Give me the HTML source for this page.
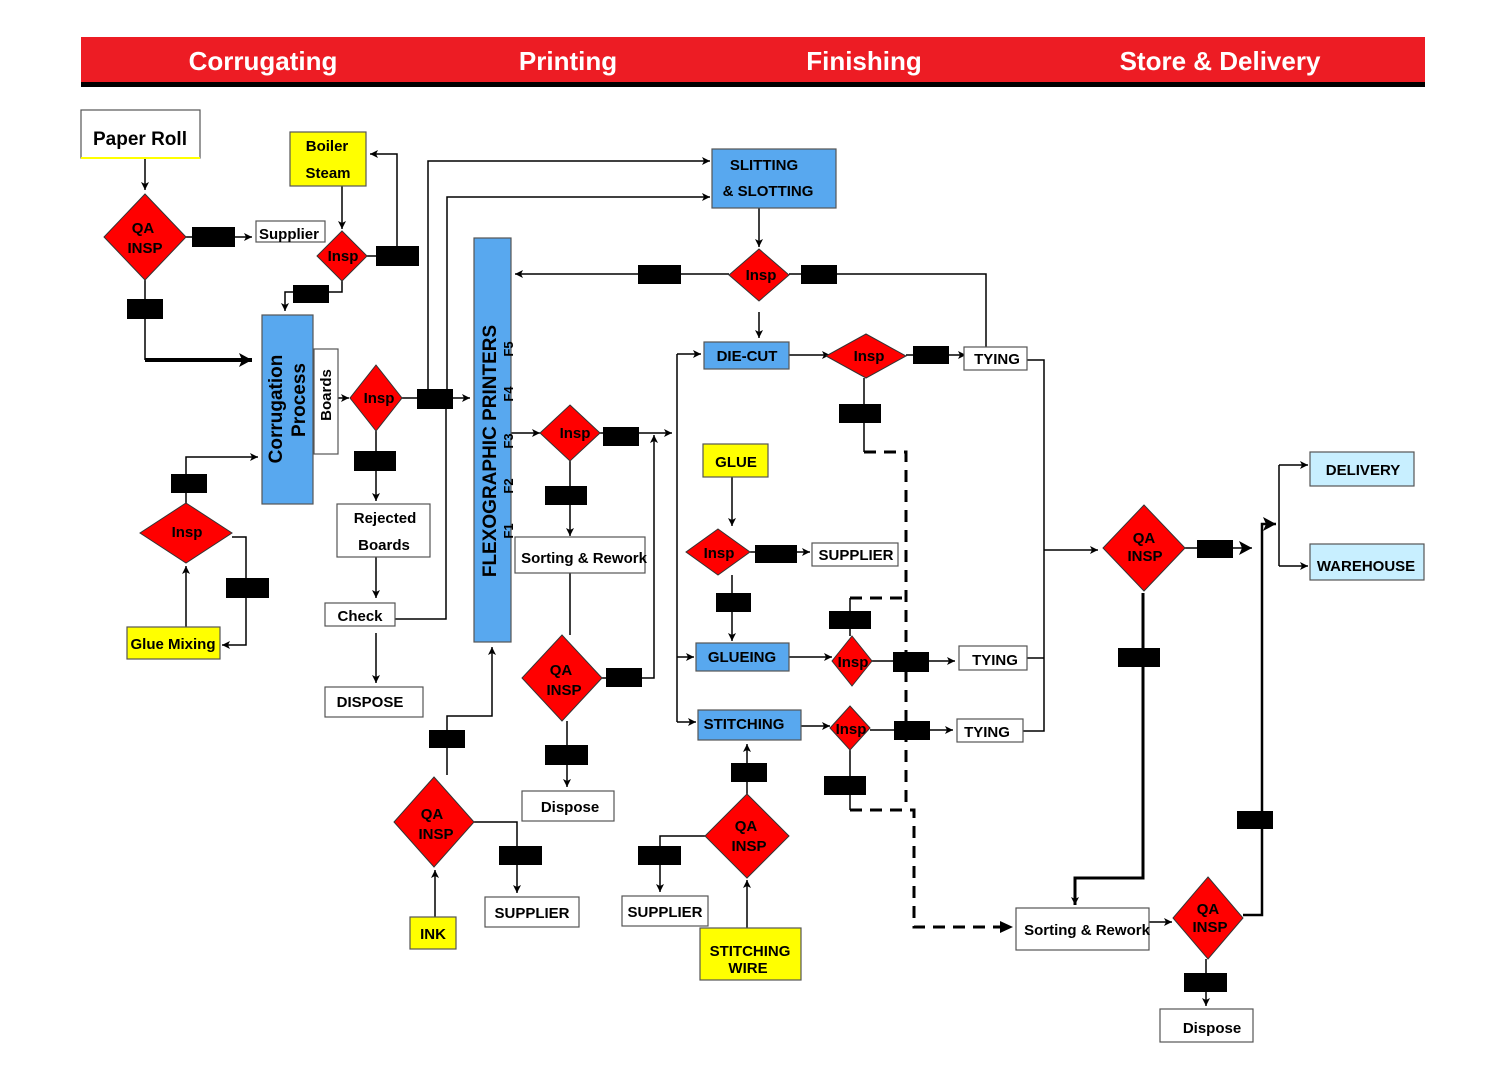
<!DOCTYPE html>
<html><head><meta charset="utf-8"><style>
html,body{margin:0;padding:0;background:#fff;width:1490px;height:1080px;overflow:hidden}
svg text{font-family:"Liberation Sans",Arial,sans-serif;font-weight:bold;fill:#000}
</style></head><body>
<svg width="1490" height="1080" viewBox="0 0 1490 1080" xmlns="http://www.w3.org/2000/svg">
<defs>
<marker id="a" markerWidth="10" markerHeight="10" refX="9" refY="5" orient="auto" markerUnits="userSpaceOnUse"><path d="M1,1 L9,5 L1,9 L3,5 Z" fill="#000"/></marker>
<marker id="b" markerWidth="16" markerHeight="16" refX="14" refY="8" orient="auto" markerUnits="userSpaceOnUse"><path d="M1,1 L14,8 L1,15 L4,8 Z" fill="#000"/></marker>
</defs>
<rect x="81" y="37" width="1344" height="46" fill="#ed1c24"/>
<rect x="81" y="82" width="1344" height="5" fill="#000"/>
<g font-size="26" text-anchor="middle">
<text x="263" y="70" style="fill:#fff">Corrugating</text>
<text x="568" y="70" style="fill:#fff">Printing</text>
<text x="864" y="70" style="fill:#fff">Finishing</text>
<text x="1220" y="70" style="fill:#fff">Store &amp; Delivery</text>
</g>

<g stroke="#000" stroke-width="1.5" fill="none">
<path d="M145,158 V190" marker-end="url(#a)"/>
<path d="M186,237 H252" marker-end="url(#a)"/>
<path d="M342,186 V229" marker-end="url(#a)"/>
<path d="M367,256 H397 V154 H370" marker-end="url(#a)"/>
<path d="M342,281 V292 H285 V311" marker-end="url(#a)"/>
<path d="M145,280 V360" />
<path d="M145,360 H252" stroke-width="4" marker-end="url(#b)"/>
<path d="M338,398 H349" marker-end="url(#a)"/>
<path d="M402,398 H470" marker-end="url(#a)"/>
<path d="M428,398 V161 H710" marker-end="url(#a)"/>
<path d="M447,398 V197 H710" marker-end="url(#a)"/>
<path d="M376,431 V501" marker-end="url(#a)"/>
<path d="M376,557 V598" marker-end="url(#a)"/>
<path d="M395,619 H446 V398"/>
<path d="M376,633 V683" marker-end="url(#a)"/>
<path d="M186,503 V457 H258" marker-end="url(#a)"/>
<path d="M232,537 H246 V645 H222" marker-end="url(#a)"/>
<path d="M186,627 V566" marker-end="url(#a)"/>
<path d="M511,433 H540" marker-end="url(#a)"/>
<path d="M600,433 H672" marker-end="url(#a)"/>
<path d="M570,461 V536" marker-end="url(#a)"/>
<path d="M570,573 V635"/>
<path d="M602,678 H654 V435" marker-end="url(#a)"/>
<path d="M567,721 V787" marker-end="url(#a)"/>
<path d="M447,775 V716 H492 V647" marker-end="url(#a)"/>
<path d="M474,822 H517 V893" marker-end="url(#a)"/>
<path d="M435,917 V870" marker-end="url(#a)"/>
<path d="M759,208 V247" marker-end="url(#a)"/>
<path d="M729,274 H515" marker-end="url(#a)"/>
<path d="M789,274 H986 V347"/>
<path d="M759,312 V338" marker-end="url(#a)"/>
<path d="M677,354 V722"/>
<path d="M677,354 H701" marker-end="url(#a)"/>
<path d="M677,657 H694" marker-end="url(#a)"/>
<path d="M677,722 H696" marker-end="url(#a)"/>
<path d="M789,355 H830" marker-end="url(#a)"/>
<path d="M906,355 H966" marker-end="url(#a)"/>
<path d="M864,378 V452"/>
<path d="M732,477 V526" marker-end="url(#a)"/>
<path d="M750,552 H810" marker-end="url(#a)"/>
<path d="M732,575 V641" marker-end="url(#a)"/>
<path d="M789,657 H832" marker-end="url(#a)"/>
<path d="M872,661 H955" marker-end="url(#a)"/>
<path d="M850,636 V598"/>
<path d="M801,726 H830" marker-end="url(#a)"/>
<path d="M870,730 H953" marker-end="url(#a)"/>
<path d="M850,750 V810"/>
<path d="M747,794 V744" marker-end="url(#a)"/>
<path d="M705,836 H660 V892" marker-end="url(#a)"/>
<path d="M747,928 V880" marker-end="url(#a)"/>
<path d="M1027,360 H1044 V731 H1023"/>
<path d="M1027,658 H1044"/>
<path d="M1044,550 H1098" marker-end="url(#a)"/>
<path d="M1185,548 H1252" marker-end="url(#b)"/>
<path d="M1279,465 V566"/>
<path d="M1279,465 H1308" marker-end="url(#a)"/>
<path d="M1279,566 H1308" marker-end="url(#a)"/>
<path d="M1143,593 V878 H1075 V905" stroke-width="3" marker-end="url(#a)"/>
<path d="M1149,922 H1172" marker-end="url(#a)"/>
<path d="M1243,915 H1262 V524 H1276" stroke-width="2.5" marker-end="url(#b)"/>
<path d="M1206,959 V1006" marker-end="url(#a)"/>
</g>
<g stroke="#000" stroke-width="3" fill="none" stroke-dasharray="12,8">
<path d="M864,452 H906 V810"/>
<path d="M850,598 H906"/>
<path d="M850,810 H914 V927 H1000"/>
</g>
<path d="M1000,921 L1013,927 L1000,933 Z" fill="#000"/>

<g stroke="#555" stroke-width="1.2">
<rect x="81" y="110" width="119" height="48" fill="#fff"/>
<rect x="256" y="221" width="69" height="21" fill="#fff"/>
<rect x="290" y="132" width="76" height="54" fill="#ffff00"/>
<rect x="262" y="315" width="51" height="189" fill="#58a8ef"/>
<rect x="314" y="349" width="24" height="105" fill="#fff"/>
<rect x="337" y="504" width="93" height="53" fill="#fff"/>
<rect x="325" y="603" width="70" height="23" fill="#fff"/>
<rect x="325" y="687" width="98" height="30" fill="#fff"/>
<rect x="127" y="627" width="93" height="32" fill="#ffff00"/>
<rect x="474" y="238" width="37" height="404" fill="#58a8ef"/>
<rect x="515" y="537" width="130" height="36" fill="#fff"/>
<rect x="522" y="791" width="92" height="30" fill="#fff"/>
<rect x="485" y="897" width="94" height="30" fill="#fff"/>
<rect x="410" y="917" width="46" height="32" fill="#ffff00"/>
<rect x="712" y="149" width="124" height="59" fill="#58a8ef"/>
<rect x="704" y="342" width="85" height="27" fill="#58a8ef"/>
<rect x="964" y="347" width="63" height="23" fill="#fff"/>
<rect x="703" y="444" width="65" height="33" fill="#ffff00"/>
<rect x="812" y="543" width="86" height="23" fill="#fff"/>
<rect x="696" y="643" width="93" height="28" fill="#58a8ef"/>
<rect x="959" y="646" width="68" height="24" fill="#fff"/>
<rect x="698" y="710" width="103" height="30" fill="#58a8ef"/>
<rect x="957" y="719" width="66" height="23" fill="#fff"/>
<rect x="622" y="896" width="86" height="30" fill="#fff"/>
<rect x="700" y="928" width="101" height="52" fill="#ffff00"/>
<rect x="1310" y="452" width="104" height="34" fill="#c8efff"/>
<rect x="1310" y="544" width="114" height="36" fill="#c8efff"/>
<rect x="1016" y="908" width="133" height="42" fill="#fff"/>
<rect x="1160" y="1009" width="93" height="33" fill="#fff"/>
</g>
<rect x="81" y="157" width="119" height="2" fill="#ffff00"/>

<g fill="#ff0000" stroke="#333" stroke-width="1">
<polygon points="145,194 186,237 145,280 104,237"/>
<polygon points="342,231 367,256 342,281 317,256"/>
<polygon points="376,365 402,398 376,431 350,398"/>
<polygon points="186,503 232,533 186,563 140,533"/>
<polygon points="570,405 600,433 570,461 540,433"/>
<polygon points="562,635 602,678 562,721 522,678"/>
<polygon points="434,777 474,822 434,867 394,822"/>
<polygon points="759,249 789,275 759,301 729,275"/>
<polygon points="866,334 906,356 866,378 826,356"/>
<polygon points="718,529 750,552 718,575 686,552"/>
<polygon points="852,636 872,661 852,686 832,661"/>
<polygon points="850,706 870,728 850,750 830,728"/>
<polygon points="747,794 789,836 747,878 705,836"/>
<polygon points="1144,505 1185,548 1144,591 1103,548"/>
<polygon points="1208,877 1243,918 1208,959 1173,918"/>
</g>

<g fill="#000">
<rect x="192" y="227" width="43" height="20"/>
<rect x="376" y="246" width="43" height="20"/>
<rect x="293" y="285" width="36" height="18"/>
<rect x="127" y="299" width="36" height="20"/>
<rect x="417" y="389" width="36" height="20"/>
<rect x="354" y="451" width="42" height="20"/>
<rect x="171" y="474" width="36" height="19"/>
<rect x="226" y="578" width="43" height="20"/>
<rect x="603" y="427" width="36" height="19"/>
<rect x="545" y="486" width="42" height="19"/>
<rect x="606" y="668" width="36" height="19"/>
<rect x="545" y="745" width="43" height="20"/>
<rect x="429" y="730" width="36" height="18"/>
<rect x="499" y="846" width="43" height="19"/>
<rect x="638" y="265" width="43" height="19"/>
<rect x="801" y="265" width="36" height="19"/>
<rect x="913" y="346" width="36" height="18"/>
<rect x="839" y="404" width="42" height="19"/>
<rect x="755" y="545" width="42" height="18"/>
<rect x="716" y="593" width="35" height="19"/>
<rect x="829" y="611" width="42" height="18"/>
<rect x="893" y="652" width="36" height="20"/>
<rect x="894" y="721" width="36" height="19"/>
<rect x="824" y="776" width="42" height="19"/>
<rect x="731" y="763" width="36" height="19"/>
<rect x="638" y="846" width="43" height="19"/>
<rect x="1197" y="540" width="36" height="18"/>
<rect x="1118" y="648" width="42" height="19"/>
<rect x="1237" y="811" width="36" height="18"/>
<rect x="1184" y="973" width="43" height="19"/>
</g>

<g font-size="15" text-anchor="middle">
<text x="140" y="145" font-size="19">Paper Roll</text>
<text x="143" y="233">QA</text><text x="145" y="253">INSP</text>
<text x="289" y="239">Supplier</text>
<text x="327" y="151">Boiler</text><text x="328" y="178">Steam</text>
<text x="343" y="261">Insp</text>
<text x="379" y="403">Insp</text>
<text x="187" y="537">Insp</text>
<text x="173" y="649">Glue Mixing</text>
<text x="385" y="523">Rejected</text><text x="384" y="550">Boards</text>
<text x="360" y="621">Check</text>
<text x="370" y="707">DISPOSE</text>
<text x="575" y="438">Insp</text>
<text x="584" y="563">Sorting &amp; Rework</text>
<text x="561" y="675">QA</text><text x="564" y="695">INSP</text>
<text x="570" y="812">Dispose</text>
<text x="432" y="819">QA</text><text x="436" y="839">INSP</text>
<text x="532" y="918">SUPPLIER</text>
<text x="433" y="939">INK</text>
<text x="764" y="170">SLITTING</text><text x="768" y="196">&amp; SLOTTING</text>
<text x="761" y="280">Insp</text>
<text x="747" y="361">DIE-CUT</text>
<text x="869" y="361">Insp</text>
<text x="997" y="364">TYING</text>
<text x="736" y="467">GLUE</text>
<text x="719" y="558">Insp</text>
<text x="856" y="560">SUPPLIER</text>
<text x="742" y="662">GLUEING</text>
<text x="853" y="667">Insp</text>
<text x="995" y="665">TYING</text>
<text x="744" y="729">STITCHING</text>
<text x="851" y="734">Insp</text>
<text x="987" y="737">TYING</text>
<text x="746" y="831">QA</text><text x="749" y="851">INSP</text>
<text x="665" y="917">SUPPLIER</text>
<text x="750" y="956">STITCHING</text><text x="748" y="973">WIRE</text>
<text x="1363" y="475">DELIVERY</text>
<text x="1366" y="571">WAREHOUSE</text>
<text x="1144" y="543">QA</text><text x="1145" y="561">INSP</text>
<text x="1087" y="935">Sorting &amp; Rework</text>
<text x="1208" y="914">QA</text><text x="1210" y="932">INSP</text>
<text x="1212" y="1033">Dispose</text>
</g>
<g text-anchor="middle">
<text transform="translate(282,409) rotate(-90)" font-size="19">Corrugation</text>
<text transform="translate(305,400) rotate(-90)" font-size="19">Process</text>
<text transform="translate(331,395) rotate(-90)" font-size="15">Boards</text>
<text transform="translate(496,451) rotate(-90)" font-size="19">FLEXOGRAPHIC PRINTERS</text>
<text transform="translate(513,349) rotate(-90)" font-size="13">F5</text>
<text transform="translate(513,394) rotate(-90)" font-size="13">F4</text>
<text transform="translate(513,441) rotate(-90)" font-size="13">F3</text>
<text transform="translate(513,486) rotate(-90)" font-size="13">F2</text>
<text transform="translate(513,531) rotate(-90)" font-size="13">F1</text>
</g>
</svg>
</body></html>
